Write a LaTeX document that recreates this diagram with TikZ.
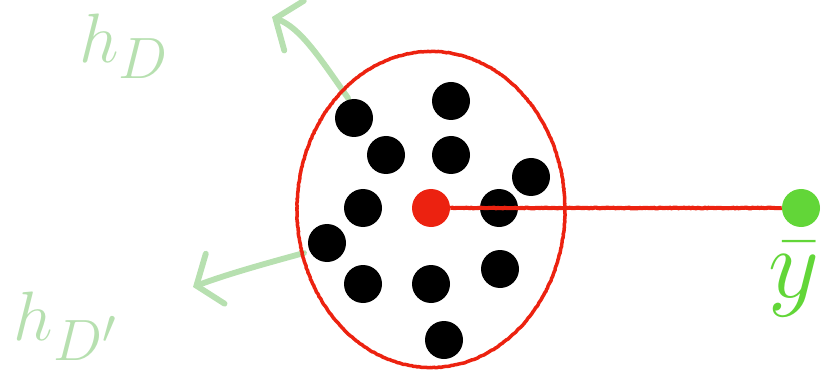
\documentclass[tikz,border=0pt]{standalone}
\usepackage{xcolor}
\usepackage{tikz}
\usetikzlibrary{arrows.meta,positioning,decorations.pathmorphing}

\definecolor{chalkred}{RGB}{236,34,16}
\definecolor{meangreen}{RGB}{98,214,56}
\definecolor{penggreen}{RGB}{183,224,176}

\begin{document}
\begin{tikzpicture}[
    x=0.03cm, y=-0.03cm,
    dot/.style={circle, fill=black, inner sep=0pt, minimum size=1.14cm},
    rim/.style={draw=chalkred, line width=3pt,
        decorate, decoration={random steps, segment length=1.5pt, amplitude=0.25pt}},
    pen/.style={draw=penggreen, line width=5pt, line cap=round,
        -{Straight Barb[length=6mm, width=16mm, line cap=round]}},
    handtxt/.style={text=penggreen, inner sep=0pt, font=\Huge, scale=2.4}
]
\useasboundingbox (0,0) rectangle (821,373);

% projection directions
\coordinate (up0) at (348,98);
\coordinate (up1) at (272,17);
\coordinate (lo0) at (304,253);
\coordinate (lo1) at (193,287);
\draw[pen] (up0) .. controls (318,55) and (300,28) .. (up1);
\draw[pen] (lo0) .. controls (260,265) and (225,275) .. (lo1);
\node[handtxt] (hd) at (124,46) {$h_D$};
\node[handtxt] (hdd) at (66,326) {$h_{D'}$};

% cluster
\draw[rim] (431,209.5) ellipse [x radius=134, y radius=158];
\foreach \n/\x/\y in {1/354/118, 2/451/101, 3/386/155, 4/451/155, 5/531/177,
    6/363/208, 7/499/208, 8/327/243, 9/363/284, 10/431/284, 11/500/269, 12/444/340} {
    \node[dot] (d\n) at (\x,\y) {};
}
\node[dot, fill=chalkred] (ctr) at (431,208) {};
\node[dot, fill=meangreen] (mean) at (801,208) {};
\draw[chalkred, line width=3.5pt, decorate,
    decoration={random steps, segment length=1.5pt, amplitude=0.3pt}] (ctr) -- (mean);
\node[text=meangreen, font=\Huge, scale=3.4, anchor=north, inner sep=0pt]
    (ybar) at (794,241) {$\bar{y}$};
\end{tikzpicture}
\end{document}
